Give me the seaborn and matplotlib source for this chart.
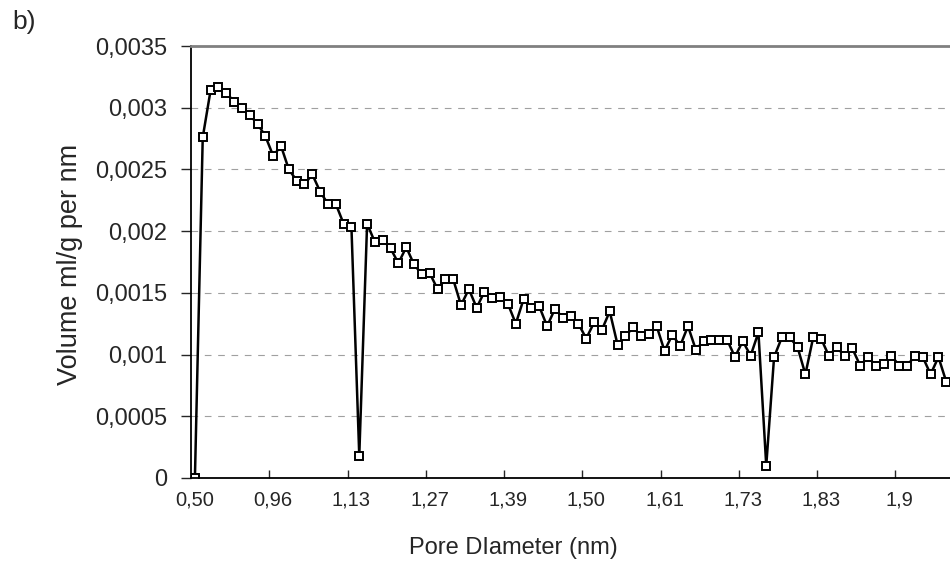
import numpy as np
import matplotlib
matplotlib.use("Agg")
import matplotlib.pyplot as plt
import seaborn as sns

# pore volume distribution, one value per category (pore diameter bin)
volume = [0, 0.00276, 0.00314, 0.00317, 0.00312, 0.00305, 0.00300, 0.00294, 0.00287, 0.00277,
          0.00261, 0.00269, 0.00250, 0.00241, 0.00238, 0.00246, 0.00232, 0.00222, 0.00222, 0.00206,
          0.00203, 0.00018, 0.00206, 0.00191, 0.00193, 0.00186, 0.00174, 0.00187, 0.00173, 0.00165,
          0.00166, 0.00153, 0.00161, 0.00161, 0.00140, 0.00153, 0.00138, 0.00151, 0.00146, 0.00147,
          0.00141, 0.00125, 0.00145, 0.00138, 0.00139, 0.00123, 0.00137, 0.00130, 0.00131, 0.00125,
          0.00113, 0.00126, 0.00120, 0.00135, 0.00108, 0.00115, 0.00122, 0.00115, 0.00117, 0.00123,
          0.00103, 0.00116, 0.00107, 0.00123, 0.00104, 0.00111, 0.00112, 0.00112, 0.00112, 0.00098,
          0.00111, 0.00099, 0.00118, 0.00010, 0.00098, 0.00114, 0.00114, 0.00106, 0.00084, 0.00114,
          0.00113, 0.00099, 0.00106, 0.00099, 0.00105, 0.00091, 0.00098, 0.00091, 0.00092, 0.00099,
          0.00091, 0.00091, 0.00099, 0.00098, 0.00084, 0.00098, 0.00078]

# category labels shown every 10th bin
diameter_labels = ["0,50", "0,96", "1,13", "1,27", "1,39", "1,50", "1,61", "1,73", "1,83", "1,9"]
y_ticks = [0, 0.0005, 0.001, 0.0015, 0.002, 0.0025, 0.003, 0.0035]
y_labels = ["0", "0,0005", "0,001", "0,0015", "0,002", "0,0025", "0,003", "0,0035"]

sns.set_style("white")
plt.rcParams['font.family'] = ['Liberation Sans', 'DejaVu Sans']

fig = plt.figure(figsize=(9.5, 5.65), dpi=100)
# plot area runs past the right edge of the picture, like the original crop
ax = fig.add_axes([191 / 950, 87 / 565, 767 / 950, 432 / 565])

idx = np.arange(len(volume))
sns.lineplot(x=idx, y=volume, ax=ax, color="black", linewidth=1.8,
             marker="s", markersize=5.5, markerfacecolor="white",
             markeredgecolor="black", markeredgewidth=1.4)

ax.set_xlim(-0.5, 97.5)
ax.set_ylim(0, 0.0035)

ax.set_yticks(y_ticks)
ax.set_yticklabels(y_labels, fontsize=17)
ax.tick_params(axis="y", direction="out", length=7, width=1, pad=10, left=True)

label_pos = np.arange(0, 10 * len(diameter_labels), 10)
ax.set_xticks(label_pos)
ax.set_xticklabels(diameter_labels, fontsize=14.5)
ax.set_xticks(np.arange(9.5, 97, 10), minor=True)
ax.tick_params(axis="x", which="major", length=0, pad=9)
ax.tick_params(axis="x", which="minor", direction="in", length=6, width=1, bottom=True)

ax.yaxis.grid(True, color="#a0a0a0", linestyle=(0, (6, 6)), linewidth=0.8)
ax.xaxis.grid(False)

for side in ["left", "bottom"]:
    ax.spines[side].set_color("black")
    ax.spines[side].set_linewidth(1.3)
ax.spines["top"].set_color("#808080")
ax.spines["top"].set_linewidth(2)
ax.spines["right"].set_visible(False)

ax.set_xlabel("")
ax.set_ylabel("")
fig.text(70 / 950, 1 - 264 / 565, "Volume ml/g per nm", fontsize=19.5,
         rotation=90, ha="center", va="center")
fig.text(513 / 950, 1 - 548 / 565, "Pore DIameter (nm)", fontsize=17, ha="center", va="center")
fig.text(12 / 950, 1 - 22 / 565, "b)", fontsize=19, ha="left", va="center")

fig.savefig("out.png", dpi=100)
